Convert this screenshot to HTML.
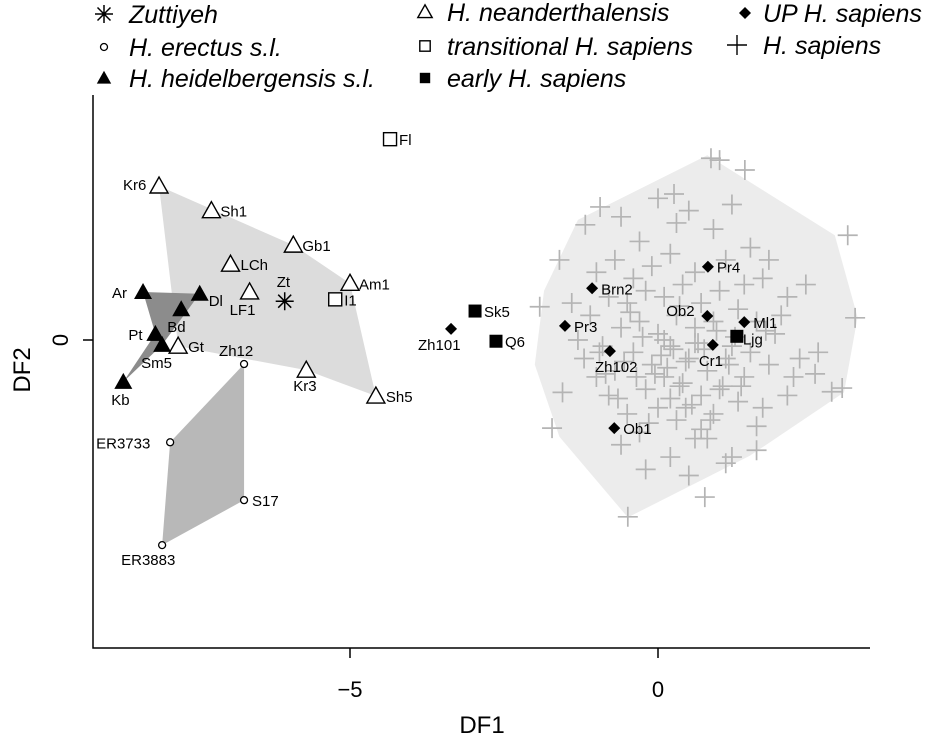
<!DOCTYPE html>
<html><head><meta charset="utf-8"><style>
body{margin:0;background:#fff}
svg{display:block;font-family:"Liberation Sans",sans-serif}
</style></head><body>
<svg id="chart" width="926" height="736" viewBox="0 0 926 736" xmlns="http://www.w3.org/2000/svg">
<g id="hulls"></g><g id="plus"></g><g id="marks"></g><g id="axes"></g><g id="legend"></g>
</svg>
<script>
const xTicks=[-5,0];
const yTicks=[0];
const neander=[["Kr6",-8.1,2.5],["Sh1",-7.25,2.1],["Gb1",-5.92,1.54],["LCh",-6.94,1.23],["LF1",-6.63,0.78],["Am1",-5.0,0.92],["Gt",-7.79,-0.1],["Kr3",-5.71,-0.49],["Sh5",-4.58,-0.91]];
const heidel=[["Ar",-8.36,0.78],["Dl",-7.44,0.75],["Bd",-7.74,0.5],["Pt",-8.16,0.1],["Sm5",-8.05,-0.08],["Kb",-8.68,-0.68]];
const erectus=[["Zh12",-6.72,-0.39],["ER3733",-7.92,-1.66],["S17",-6.72,-2.6],["ER3883",-8.05,-3.33]];
const zutt=[["Zt",-6.06,0.63]];
const transit=[["Fl",-4.35,3.26],["I1",-5.24,0.66]];
const early=[["Sk5",-2.97,0.47],["Q6",-2.63,-0.02],["Ljg",1.28,0.06]];
const upsap=[["Zh101",-3.36,0.18],["Brn2",-1.07,0.84],["Pr3",-1.51,0.23],["Pr4",0.81,1.19],["Ob2",0.8,0.39],["Ml1",1.4,0.29],["Cr1",0.89,-0.08],["Zh102",-0.78,-0.18],["Ob1",-0.71,-1.43]];
const sapHull=[[0.8,3.0],[2.87,1.7],[3.24,0.37],[3.02,-0.85],[1.49,-1.88],[-0.49,-2.88],[-1.6,-1.57],[-2.0,-0.4],[-1.85,0.8],[-1.3,1.95]];
const sapX=[0.86,1.0,-1.18,-1.92,3.08,3.2,2.99,2.82,-0.49,0.76,1.6,-1.72,-0.94,0.26,1.41,-1.6,-1.3,-0.6,-0.3,0.0,0.3,0.5,0.9,1.2,1.5,1.8,2.1,2.4,2.6,-1.0,-0.7,-0.4,-0.1,0.2,0.6,1.1,1.4,1.7,2.0,2.3,-1.4,-1.1,-0.8,-0.5,-0.2,0.1,0.4,0.7,1.0,1.3,1.6,1.9,2.2,-1.2,-0.9,-0.6,-0.3,0.0,0.3,0.6,0.9,1.2,1.5,1.8,2.1,-1.0,-0.7,-0.4,-0.1,0.2,0.5,0.8,1.1,1.4,1.7,-0.8,-0.5,-0.2,0.1,0.4,0.7,1.0,1.3,1.6,-0.6,-0.3,0.0,0.3,0.6,0.9,1.2,-0.2,0.2,0.5,0.8,1.1,-0.45,0.35,1.75,2.55,-1.55,0.05,0.65,1.25,-0.85,0.15,0.95,-0.25,0.45,1.05,-0.15,0.55,-0.55,-0.35,0.25,0.75,1.15,0.35,-0.05,0.45,0.85,-0.65,0.1,0.6,1.35,-0.95,0.2,0.7];
const sapY=[2.95,2.92,1.87,0.54,1.7,0.36,-0.78,-0.84,-2.87,-2.55,-1.79,-1.43,2.16,2.37,2.76,1.3,0.0,2.0,1.6,2.3,1.9,2.1,1.8,2.2,1.5,1.3,0.7,0.9,-0.2,1.1,1.3,1.0,1.2,1.4,1.1,1.3,0.9,1.0,0.4,-0.3,0.6,0.4,0.7,0.6,0.8,0.7,0.9,0.6,0.8,0.5,0.3,0.1,-0.6,-0.3,-0.1,0.2,0.3,0.1,0.4,0.2,0.3,-0.1,-0.2,-0.4,-0.9,-0.6,-0.5,-0.2,-0.4,-0.1,-0.3,-0.5,-0.3,-0.6,-1.1,-0.9,-1.2,-0.8,-0.6,-0.7,-0.9,-0.8,-1.0,-1.4,-1.7,-1.5,-1.1,-1.3,-1.6,-1.2,-1.9,-2.1,-1.9,-2.2,-1.6,-2.0,0.45,0.55,0.15,-0.55,-0.85,-0.25,-0.05,0.05,-0.55,-0.45,0.15,0.05,-0.35,-0.75,-1.35,-1.05,-0.35,-0.6,-0.15,-0.15,-0.4,-0.75,-0.55,-1.1,-1.3,-0.95,0.0,-0.05,-0.75,-0.2,-0.95,-1.45];
const NS="http://www.w3.org/2000/svg";
const X=v=>658+v*61.6, Y=v=>340-v*61.6;
function mk(parent,tag,attrs){const e=document.createElementNS(NS,tag);for(const k in attrs)e.setAttribute(k,attrs[k]);document.getElementById(parent).appendChild(e);return e;}
function poly(pts,fill,name){const e=mk("hulls","polygon",{points:pts.map(p=>X(p[0])+","+Y(p[1])).join(" "),fill:fill});

}
poly(sapHull,"#ececec","sapiens-hull");
const byName=(arr,names)=>names.map(n=>{const r=arr.find(a=>a[0]===n);return [r[1],r[2]];});
poly(byName(neander,["Kr6","Gb1","Am1","Sh5","Kr3","Gt"]),"#dcdcdc","neanderthal-hull");
poly(byName(erectus,["Zh12","S17","ER3883","ER3733"]),"#b8b8b8","erectus-hull");
poly(byName(heidel,["Ar","Dl","Sm5","Kb","Pt"]),"#8c8c8c","heidelbergensis-hull");
for(let i=0;i<sapX.length;i++){const x=X(sapX[i]),y=Y(sapY[i]);
const p=mk("plus","path",{d:`M${x-10},${y}H${x+10}M${x},${y-10}V${y+10}`,stroke:"#b4b4b4","stroke-width":1.7,fill:"none"});

}
function shape(type,x,y,k){k=k||1;
 if(type==="tri")return mk("marks","polygon",{points:`${x},${y-9*k} ${x-9*k},${y+7*k} ${x+9*k},${y+7*k}`,fill:"#fff",stroke:"#000","stroke-width":1.4});
 if(type==="ftri")return mk("marks","polygon",{points:`${x},${y-9*k} ${x-9*k},${y+7*k} ${x+9*k},${y+7*k}`,fill:"#000"});
 if(type==="circ")return mk("marks","circle",{cx:x,cy:y,r:3.5,fill:"#fff",stroke:"#000","stroke-width":1.3});
 if(type==="sq")return mk("marks","rect",{x:x-6.5*k,y:y-6.5*k,width:13*k,height:13*k,fill:"#fff",stroke:"#000","stroke-width":1.4});
 if(type==="fsq")return mk("marks","rect",{x:x-6.5*k,y:y-6.5*k,width:13*k,height:13*k,fill:"#000"});
 if(type==="dia")return mk("marks","polygon",{points:`${x},${y-6} ${x+6},${y} ${x},${y+6} ${x-6},${y}`,fill:"#000"});
 if(type==="star")return mk("marks","path",{d:`M${x-9},${y}H${x+9}M${x},${y-9}V${y+9}M${x-6.5},${y-6.5}L${x+6.5},${y+6.5}M${x-6.5},${y+6.5}L${x+6.5},${y-6.5}`,stroke:"#000","stroke-width":1.5});
}
const off={Kr6:[-36,4],Gt:[10,6],Kr3:[-13,21],Sh5:[10,6],LF1:[-20,23],LCh:[10,6],Ar:[-31,6],Dl:[9,12],Bd:[-14,23],Pt:[-27,6],Sm5:[-21,23],Kb:[-12,23],Zh12:[-25,-8],ER3733:[-74,6],S17:[8,6],ER3883:[-41,20],Zt:[-8,-14],Zh101:[-33,21],Zh102:[-15,21],Cr1:[-14,21],Ob2:[-41,0],Ljg:[6,8]};
function plot(arr,type,name){arr.forEach(r=>{const x=X(r[1]),y=Y(r[2]);const s=shape(type,x,y);


const o=off[r[0]]||[9,6];const t=mk("marks","text",{x:x+o[0],y:y+o[1],"font-size":15,fill:"#000"});t.textContent=r[0];

});}
plot(neander,"tri","neanderthal");plot(heidel,"ftri","heidelbergensis");plot(erectus,"circ","erectus");
plot(zutt,"star","zuttiyeh");plot(transit,"sq","transitional");plot(early,"fsq","early-sapiens");plot(upsap,"dia","up-sapiens");
const ax=mk("axes","path",{d:"M93,95V648H870",stroke:"#000","stroke-width":1.5,fill:"none"});


xTicks.forEach(v=>{mk("axes","path",{d:`M${X(v)},648V658`,stroke:"#000","stroke-width":1.5});
const t=mk("axes","text",{x:X(v),y:697,"font-size":22,"text-anchor":"middle"});t.textContent=v<0?"\u2212"+(-v):v;

});
yTicks.forEach(v=>{mk("axes","path",{d:`M83,${Y(v)}H93`,stroke:"#000","stroke-width":1.5});
const t=mk("axes","text",{x:68,y:Y(v),"font-size":22,"text-anchor":"middle",transform:`rotate(-90 68 ${Y(v)})`});t.textContent=v;

});
const xt=mk("axes","text",{x:482,y:733,"font-size":24,"text-anchor":"middle"});xt.textContent="DF1";


const yt=mk("axes","text",{x:0,y:0,"font-size":24,"text-anchor":"middle",transform:"translate(30,370) rotate(-90)"});yt.textContent="DF2";


const leg=[["star",104,14,"Zuttiyeh",129],["circ",104,47,"H. erectus s.l.",129],["ftri",104,78,"H. heidelbergensis s.l.",129],["tri",425,12,"H. neanderthalensis",447],["sq",425,46,"transitional H. sapiens",447],["fsq",425,78,"early H. sapiens",447],["dia",745,13,"UP H. sapiens",763],["plus",737,45,"H. sapiens",763]];
leg.forEach(l=>{let s;if(l[0]==="plus"){s=mk("legend","path",{d:`M${l[1]-10},${l[2]}H${l[1]+10}M${l[1]},${l[2]-10}V${l[2]+10}`,stroke:"#000","stroke-width":1.4});}
else{s=shape(l[0],l[1],l[2],0.8);document.getElementById("legend").appendChild(s);}


const t=mk("legend","text",{x:l[4],y:l[2]+9,"font-size":25,"font-style":"italic"});t.textContent=l[3];

});
</script>
</body></html>
